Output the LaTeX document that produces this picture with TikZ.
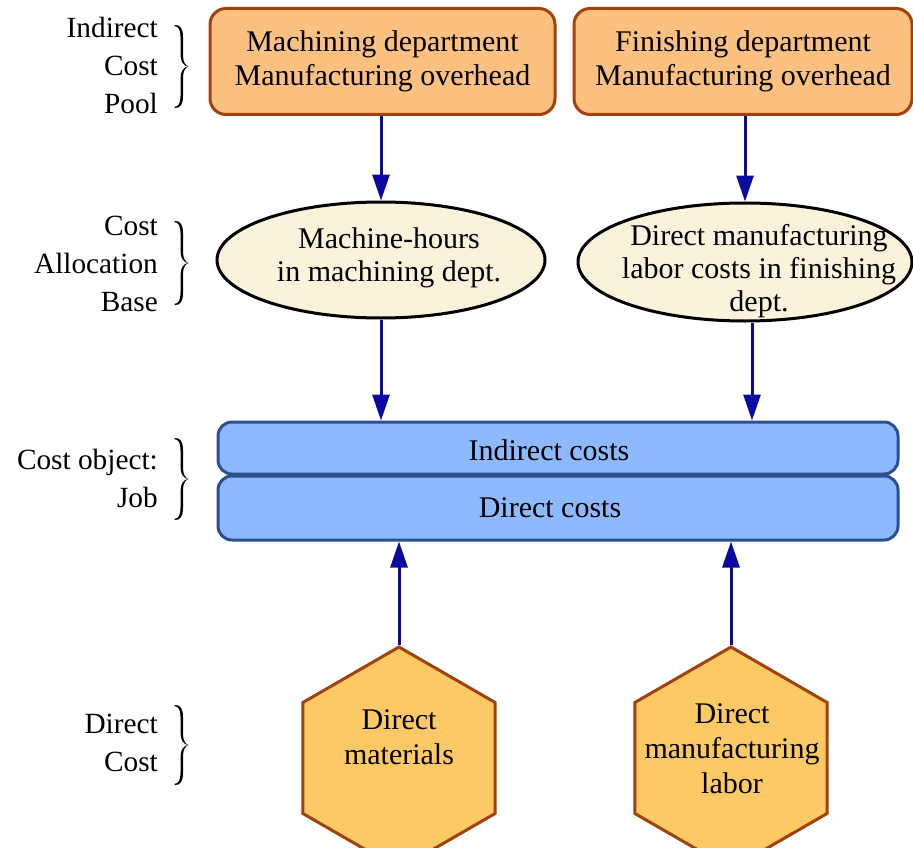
\documentclass[tikz,border=0pt]{standalone}
\usepackage{fontspec}
\setmainfont{Liberation Serif}
\usetikzlibrary{shapes.geometric,arrows.meta}
\definecolor{poolfill}{HTML}{FCC180}
\definecolor{poolline}{HTML}{A3400C}
\definecolor{basefill}{HTML}{FAF3DC}
\definecolor{jobfill}{HTML}{8DB9FF}
\definecolor{jobline}{HTML}{2D4F8E}
\definecolor{hexfill}{HTML}{FDC965}
\definecolor{arrowblue}{HTML}{0A0AA0}
% a tapered right curly brace: left x, top y, bottom y
\newcommand{\texbrace}[3]{%
  \pgfmathsetmacro\brcmid{(#2+#3)/2}%
  \pgfmathsetmacro\brca{#2+12}\pgfmathsetmacro\brcb{\brcmid-12}%
  \pgfmathsetmacro\brcc{\brcmid+12}\pgfmathsetmacro\brcd{#3-12}%
  \fill (#1,#2) .. controls (#1+6,#2-0.5) and (#1+8.5,#2+4) .. (#1+8.5,\brca)
    -- (#1+8.5,\brcb) .. controls (#1+8.5,\brcmid-4) and (#1+11,\brcmid-1) .. (#1+14,\brcmid)
    .. controls (#1+11,\brcmid+1) and (#1+8.5,\brcmid+4) .. (#1+8.5,\brcc)
    -- (#1+8.5,\brcd) .. controls (#1+8.5,#3-4) and (#1+6,#3+0.5) .. (#1,#3)
    -- (#1,#3-1.2) .. controls (#1+4,#3-1.2) and (#1+6,#3-5) .. (#1+6,\brcd)
    -- (#1+6,\brcc) .. controls (#1+6,\brcmid+5) and (#1+9,\brcmid) .. (#1+14,\brcmid)
    .. controls (#1+9,\brcmid) and (#1+6,\brcmid-5) .. (#1+6,\brcb)
    -- (#1+6,\brca) .. controls (#1+6,#2+5) and (#1+4,#2+1.2) .. (#1,#2+1.2) -- cycle;}
\begin{document}
\begin{tikzpicture}[x=1pt,y=-1pt,
  every node/.style={font=\fontsize{30}{34}\selectfont, inner sep=0pt},
  pool/.style={draw=poolline, fill=poolfill, line width=3pt, rounded corners=16pt,
    minimum height=106pt, align=center},
  basis/.style={ellipse, draw=black, fill=basefill, line width=3pt},
  job/.style={draw=jobline, fill=jobfill, line width=3pt, rounded corners=14pt,
    minimum width=680pt},
  hexa/.style={regular polygon, regular polygon sides=6, shape border rotate=30,
    draw=poolline, fill=hexfill, line width=3pt, minimum size=222pt},
  txt/.style={align=center},
  lbl/.style={align=right, anchor=east, font=\fontsize{29.3}{38}\selectfont},
  flow/.style={draw=arrowblue, line width=3pt, -{Triangle[length=26pt,width=17pt]}}
]
\useasboundingbox (0,0) rectangle (913,848);

% indirect cost pools
\node[pool, minimum width=345pt] (mach) at (382.5,61.5) {Machining department\\Manufacturing overhead};
\node[pool, minimum width=338pt] (fin) at (743,61.5) {Finishing department\\Manufacturing overhead};

% allocation bases
\node[basis, minimum width=328pt, minimum height=116pt] (mh) at (381,260) {};
\node[txt, font=\fontsize{30}{33}\selectfont] (mhtext) at (389,258) {Machine-hours\\in machining dept.};
\node[basis, minimum width=334pt, minimum height=118pt] (dl) at (745,262) {};
\node[txt, font=\fontsize{30}{33}\selectfont] (dltext) at (759,271) {Direct manufacturing\\labor costs in finishing\\dept.};

% cost object
\node[job, minimum height=52pt] (ind) at (558,448) {};
\node[job, minimum height=64pt] (dir) at (558,508) {};
\node (indtext) at (549,450) {Indirect costs};
\node (dirtext) at (550,508) {Direct costs};

% direct costs
\node[hexa] (dm) at (399,758) {};
\node[txt, font=\fontsize{30}{35}\selectfont] (dmtext) at (399,737) {Direct\\materials};
\node[hexa] (dml) at (731,758) {};
\node[txt, font=\fontsize{30}{35}\selectfont] (dmltext) at (732,749) {Direct\\manufacturing\\labor};

% flows
\draw[flow] (mh.north |- mach.south) -- (mh.north);
\draw[flow] (dl.north |- fin.south) -- (dl.north);
\draw[flow] (mh.south) -- (mh.south |- ind.north);
\draw[flow] ([xshift=7pt]dl.south) -- ([xshift=7pt]dl.south |- ind.north);
\draw[flow] (dm.north) -- (dm.north |- dir.south);
\draw[flow] (dml.north) -- (dml.north |- dir.south);

% level labels with braces
\node[lbl] (l1) at (158,65) {Indirect\\Cost\\Pool};
\node[lbl] (l2) at (158,264) {Cost\\Allocation\\Base};
\node[lbl] (l3) at (158,478) {Cost object:\\Job};
\node[lbl] (l4) at (158,743) {Direct\\Cost};
\texbrace{174.5}{25}{108}
\texbrace{174.5}{221}{305}
\texbrace{174.5}{438}{520}
\texbrace{174.5}{705}{785}
\end{tikzpicture}
\end{document}
